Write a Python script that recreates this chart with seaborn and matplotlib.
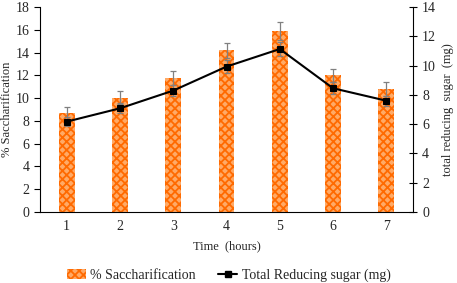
import numpy as np
import pandas as pd
import matplotlib
matplotlib.use("Agg")
import matplotlib.pyplot as plt
import seaborn as sns
from matplotlib.patches import Patch
from matplotlib.lines import Line2D

# data
hours = ["1", "2", "3", "4", "5", "6", "7"]
saccharification = [8.7, 10.05, 11.75, 14.2, 15.9, 12.0, 10.8]
sacch_err = [0.5, 0.55, 0.6, 0.65, 0.8, 0.6, 0.6]
reducing_sugar = [6.17, 7.08, 8.29, 9.93, 11.13, 8.45, 7.6]
sugar_err = [0.3, 0.35, 0.35, 0.45, 0.5, 0.4, 0.35]

df = pd.DataFrame({"hours": hours, "sacch": saccharification, "sugar": reducing_sugar})

sns.set_style("white")
plt.rcParams["font.family"] = ["Liberation Serif", "DejaVu Serif"]
plt.rcParams["hatch.linewidth"] = 1.3
plt.rcParams["hatch.color"] = "#FF6A00"

fig = plt.figure(figsize=(4.57, 2.83), dpi=100)
ax = fig.add_axes([40 / 457, 1 - 212 / 283, 373 / 457, 205 / 283])

bar_face = "#FFAA66"
sns.barplot(data=df, x="hours", y="sacch", ax=ax, width=0.3, color=bar_face,
            errorbar=None, saturation=1, linewidth=0)
for p in ax.patches:
    p.set_hatch("xxxx")
    p.set_edgecolor("#FF6A00")
    p.set_linewidth(0)
xpos = np.arange(len(hours))
ax.errorbar(xpos, saccharification, yerr=sacch_err, fmt="none", ecolor="#808080",
            elinewidth=0.9, capsize=2.5, capthick=0.9, zorder=3)

ax.set_xlim(-0.5, 6.5)
ax.set_ylim(0, 18)
ax.set_yticks(range(0, 19, 2))
ax.set_xticks(np.arange(-0.5, 7, 1), minor=False)
ax.set_xticklabels([])
ax.set_xticks(xpos, labels=hours, minor=True)
ax.tick_params(axis="x", which="major", direction="out", length=4, width=0.8, color="black")
ax.tick_params(axis="x", which="minor", length=0, labelsize=10, pad=6)
ax.tick_params(axis="y", direction="out", length=4, width=0.8, color="black", labelsize=10)
ax.set_xlabel("Time  (hours)", fontsize=9, labelpad=5)
ax.set_ylabel("% Saccharification", fontsize=9, labelpad=2)
for s in ["top", "right"]:
    ax.spines[s].set_visible(False)
for s in ["left", "bottom"]:
    ax.spines[s].set_color("black")
    ax.spines[s].set_linewidth(0.8)

ax2 = ax.twinx()
sns.lineplot(data=df, x="hours", y="sugar", ax=ax2, color="black", linewidth=1.5,
             marker="s", markersize=5, markeredgecolor="black", zorder=4)
ax2.errorbar(xpos, reducing_sugar, yerr=sugar_err, fmt="none", ecolor="#808080",
             elinewidth=0.9, capsize=2.5, capthick=0.9, zorder=3)
ax2.set_ylim(0, 14)
ax2.set_yticks(range(0, 15, 2))
ax2.set_xlim(-0.5, 6.5)
ax2.set_ylabel("total reducing  sugar  (mg)", fontsize=9, labelpad=4)
ax2.tick_params(axis="y", direction="inout", length=6, width=0.8, color="black", labelsize=10)
for s in ["top", "left", "bottom"]:
    ax2.spines[s].set_visible(False)
ax2.spines["right"].set_color("black")
ax2.spines["right"].set_linewidth(0.8)

handles = [Patch(facecolor=bar_face, edgecolor="#FF6A00", hatch="xxxx", linewidth=0),
           Line2D([0], [0], color="black", marker="s", markersize=4, linewidth=1.5)]
fig.legend(handles, ["% Saccharification", "Total Reducing sugar (mg)"], loc="center",
           bbox_to_anchor=(0.5, 1 - 275 / 283), ncol=2, frameon=False, fontsize=10,
           handlelength=1.4, handletextpad=0.3, columnspacing=1.6)

fig.savefig("out.png", dpi=100)
